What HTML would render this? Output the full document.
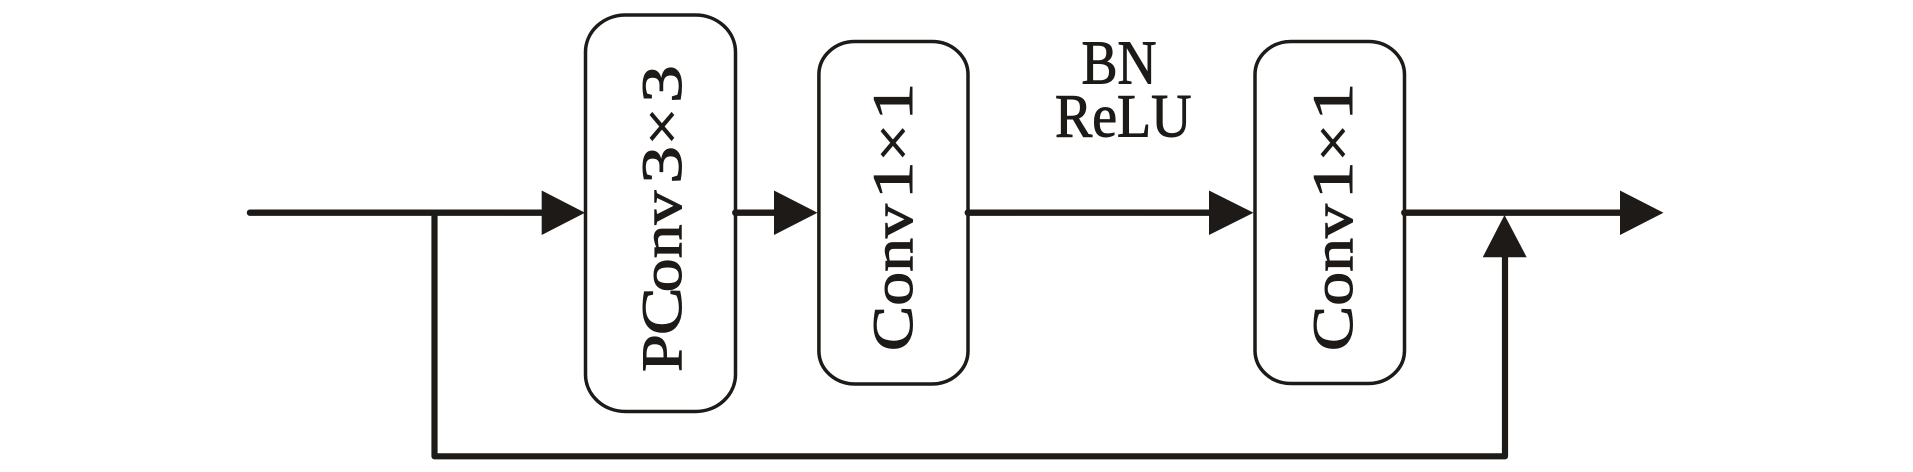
<!DOCTYPE html>
<html>
<head>
<meta charset="utf-8">
<style>
  html, body { margin: 0; padding: 0; background: #ffffff; }
  svg { display: block; }
  text { font-family: "Liberation Serif", "DejaVu Serif", serif; fill: #1d1a17; stroke: #1d1a17; stroke-width: 1.0; }
</style>
</head>
<body>
<svg width="1913" height="472" viewBox="0 0 1913 472" xmlns="http://www.w3.org/2000/svg">
  <g stroke="#1d1a17" fill="none">
    <!-- main input line -->
    <line x1="250" y1="212.7" x2="545" y2="212.7" stroke-width="6.4" stroke-linecap="round"/>
    <!-- skip branch: down, across, up -->
    <polyline points="434.5,212.7 434.5,456.3 1505,456.3 1505,250" stroke-width="6.2" stroke-linejoin="round" stroke-linecap="butt"/>
    <!-- box1 -> box2 -->
    <line x1="735.5" y1="212.7" x2="778" y2="212.7" stroke-width="6.4" stroke-linecap="round"/>
    <!-- box2 -> box3 -->
    <line x1="968" y1="212.7" x2="1212" y2="212.7" stroke-width="6.4" stroke-linecap="round"/>
    <!-- box3 -> output -->
    <line x1="1404.5" y1="212.7" x2="1624" y2="212.7" stroke-width="6.4" stroke-linecap="round"/>

    <!-- boxes -->
    <rect x="585.5" y="15" width="150" height="396.5" rx="40" ry="37" stroke-width="3.5" fill="#ffffff"/>
    <rect x="818.9" y="41.5" width="149.1" height="342.5" rx="36" ry="33" stroke-width="3.5" fill="#ffffff"/>
    <rect x="1255" y="41.5" width="149.5" height="342" rx="36" ry="33" stroke-width="3.5" fill="#ffffff"/>
  </g>

  <!-- arrowheads -->
  <g fill="#1d1a17" stroke="none">
    <polygon points="541.7,190.5 585,212.7 541.7,235"/>
    <polygon points="774,190.5 817.5,212.7 774,235"/>
    <polygon points="1209,190.5 1253.5,212.7 1209,235"/>
    <polygon points="1620,190.5 1663.5,212.7 1620,235"/>
    <polygon points="1482.7,257.3 1504.5,215 1526.7,257.3"/>
  </g>

  <!-- small dots at box output junctions -->
  <g fill="#1d1a17">
    <circle cx="735.5" cy="212.7" r="3.4"/>
    <circle cx="968" cy="212.7" r="3.4"/>
    <circle cx="1404.5" cy="212.7" r="3.4"/>
  </g>

  <!-- PConv 3x3 (rotated, reading bottom to top) -->
  <g transform="translate(681,372) rotate(-90) scale(1.19,1)" font-size="57">
    <text x="0" y="0">P</text>
    <text x="31" y="0" transform="translate(31,0) scale(1.06,1) translate(-31,0)">C</text>
    <text x="67" y="0">onv</text>
    <text x="174" y="0" text-anchor="middle" transform="translate(174,0) scale(1.12,1) translate(-174,0)">3</text>
    <text x="206.3" y="0" text-anchor="middle">×</text>
    <text x="242" y="0" text-anchor="middle" transform="translate(242,0) scale(1.12,1) translate(-242,0)">3</text>
  </g>

  <!-- Conv 1x1 (box 2) -->
  <g transform="translate(912,351) rotate(-90) scale(1.19,1)" font-size="57">
    <text x="0" y="0">Conv</text>
    <text x="143.5" y="0" text-anchor="middle" transform="translate(143.5,0) scale(1.12,1) translate(-143.5,0)">1</text>
    <text x="175" y="0" text-anchor="middle">×</text>
    <text x="209.5" y="0" text-anchor="middle" transform="translate(209.5,0) scale(1.12,1) translate(-209.5,0)">1</text>
  </g>

  <!-- Conv 1x1 (box 3) -->
  <g transform="translate(1352,351) rotate(-90) scale(1.19,1)" font-size="57">
    <text x="0" y="0">Conv</text>
    <text x="143.5" y="0" text-anchor="middle" transform="translate(143.5,0) scale(1.12,1) translate(-143.5,0)">1</text>
    <text x="175" y="0" text-anchor="middle">×</text>
    <text x="209.5" y="0" text-anchor="middle" transform="translate(209.5,0) scale(1.12,1) translate(-209.5,0)">1</text>
  </g>

  <!-- BN / ReLU label -->
  <text x="1081.5" y="83.3" font-size="62" textLength="75" lengthAdjust="spacingAndGlyphs">BN</text>
  <text x="1055" y="136.7" font-size="61" textLength="136.5" lengthAdjust="spacingAndGlyphs">ReLU</text>
</svg>
</body>
</html>
